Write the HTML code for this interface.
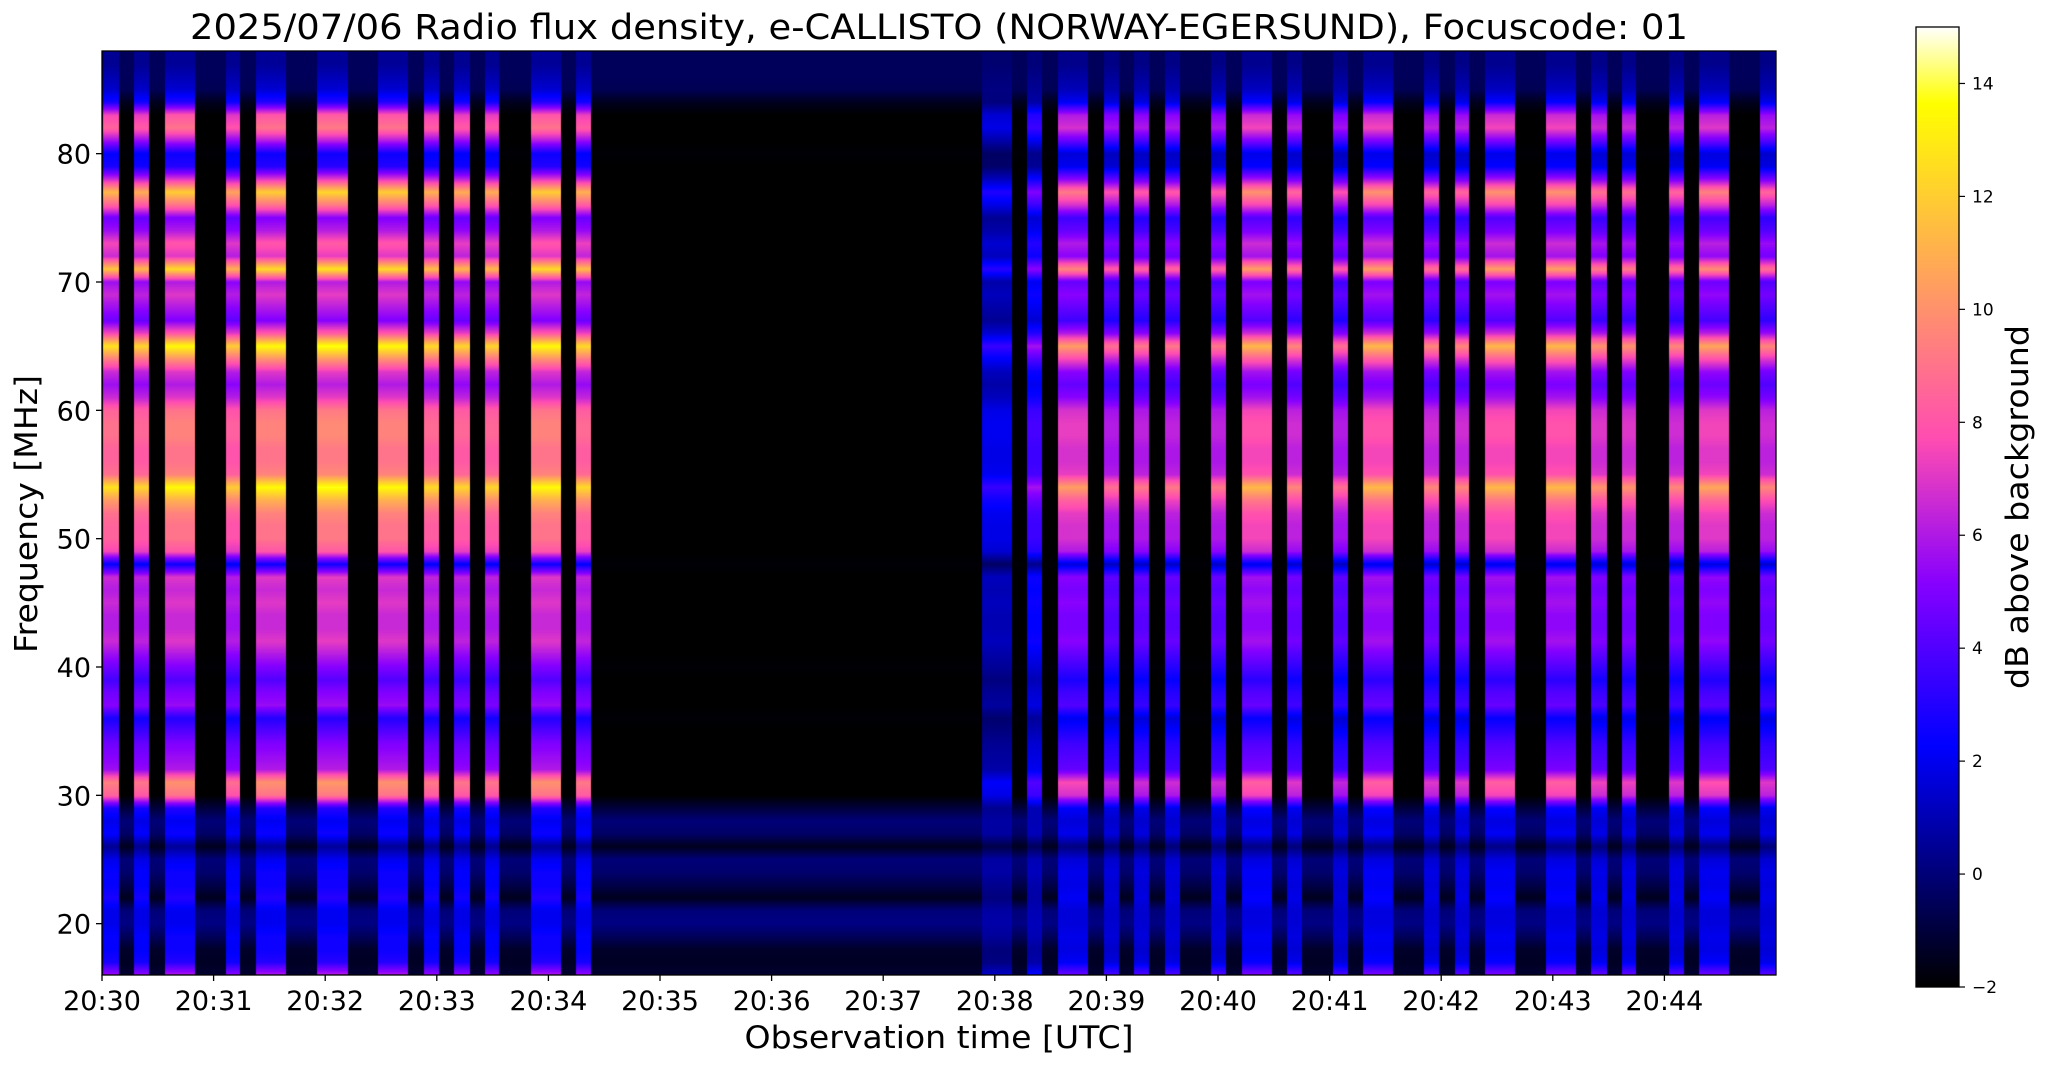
<!DOCTYPE html>
<html><head><meta charset="utf-8"><style>
html,body{margin:0;padding:0;background:#fff;}
#wrap{position:relative;width:2047px;height:1067px;overflow:hidden;font-family:"DejaVu Sans","Liberation Sans",sans-serif;}
canvas{position:absolute;}
svg{position:absolute;left:0;top:0;}
</style></head><body>
<div id="wrap">
<canvas id="spec" width="1674" height="924" style="left:102px;top:51px"></canvas>
<canvas id="cbar" width="43" height="960" style="left:1916px;top:27px"></canvas>
<svg id="ax" width="2047" height="1067"></svg>
</div>
<script>
// ---- data ----
const freqs = [88,87,86,85,84,83,82,81,80,79,78,77,76,75,74,73,72,71,70,69,68,67,66,65,64,63,62,61,60,59,58,57,56,55,54,53,52,51,50,49,48,47,46,45,44,43,42,41,40,39,38,37,36,35,34,33,32,31,30,29,28,27,26,25,24,23,22,21,20,19,18,17,16];
const burstProfile = [0.5,0.5,1,1.5,3,8,9,6,2.5,3,7,12,9,5,6,8,7,12.5,6,7,6,5,8,13.5,10,7,6,7,9,9.5,9.5,9,9,9.5,13.5,11,9.5,9,9,8,2.5,7,6.5,7,6.5,6.5,7,6,5,4,5,5.5,3,4,5,5.5,6,10,9,3,2,2.5,0.5,2,2.5,2.5,3,2,2,2.5,2.5,3,6];
const backgroundProfile = [-0.5,-0.5,-0.5,-0.6,-1.5,-2,-2,-2,-1.9,-2,-2,-2,-2,-2,-2,-2,-2,-2,-2,-2,-2,-2,-2,-2,-2,-2,-2,-2,-2,-2,-2,-2,-2,-2,-2,-2,-2,-2,-2,-2,-1.9,-2,-2,-2,-2,-2,-2,-2,-1.9,-2,-2,-2,-1.9,-2,-2,-2,-2,-2,-2,-1.0,0,-0.3,-1.5,0,-0.2,-0.8,-1.5,0,0.2,-0.5,-1.3,-1.4,-1.2];
const burstStart = [0.5,17.2,33.8,66.6,82.7,115.5,148.3,173,189,205.7,230.4,254.6,473.2,497.4,514,538.8,554.9,571.5,596.2,613,637,661.8,677.9,710.7,727.3,743.4,776.2,800.4,817,842.3,858.4,891.2];
const burstEnd   = [9.1,25.2,50,74.1,98.8,132.1,164.4,181,197.7,213.3,246.6,262.7,489.4,505.5,530.2,546.8,563,579.6,604.3,629,645.1,669.8,694,718.7,734.8,759.6,792.3,809,825,850.4,874.5,900];
const burstGain  = [0.95,0.92,1.0,0.9,1.0,1.02,1.0,0.93,0.92,0.92,1.0,0.93,0.35,0.5,0.8,0.7,0.72,0.72,0.72,0.86,0.75,0.7,0.86,0.75,0.75,0.86,0.86,0.78,0.78,0.75,0.82,0.75];
const xTicks = [0,60,120,180,240,300,360,420,480,540,600,660,720,780,840];
const xTickLabels = ["20:30","20:31","20:32","20:33","20:34","20:35","20:36","20:37","20:38","20:39","20:40","20:41","20:42","20:43","20:44"];
const yTicks = [20,30,40,50,60,70,80];
const cTicks = [-2,0,2,4,6,8,10,12,14];

// ---- scales ----
const PL=102,PT=51,PW=1674,PH=924,TMAX=900,FMIN=16,FMAX=88,VMIN=-2,VMAX=15;
const CX=1916,CT=27,CW=43,CH=960;
const xs=t=>PL+t/TMAX*PW;
const ys=f=>PT+(FMAX-f)/(FMAX-FMIN)*PH;
const cs=v=>CT+CH-(v-VMIN)/(VMAX-VMIN)*CH;
const clamp=v=>v<0?0:v>1?1:v;
function gnuplot2(x){
  x=clamp(x);
  const r=clamp(x/0.32-0.78125), g=clamp(2*x-0.84);
  let b; if(x<0.25)b=4*x; else if(x<0.42)b=1; else if(x<0.92)b=-2*x+1.84; else b=x/0.08-11.5;
  return [r*255,g*255,clamp(b)*255];
}
function interp(arr,f){
  const i=(FMAX-f); const i0=Math.max(0,Math.min(arr.length-1,Math.floor(i))); const i1=Math.min(arr.length-1,i0+1);
  const w=i-i0; return arr[i0]*(1-w)+arr[i1]*w;
}

// ---- heatmap ----
const ctx=document.getElementById('spec').getContext('2d');
const img=ctx.createImageData(PW,PH);
const rowBg=[],rowBurst=[];
for(let y=0;y<PH;y++){const f=FMAX-(y+0.5)/PH*(FMAX-FMIN);rowBg.push(interp(backgroundProfile,f));rowBurst.push(interp(burstProfile,f));}
for(let x=0;x<PW;x++){
  const t=(x+0.5)/PW*TMAX;
  let g=0;
  for(let k=0;k<burstStart.length;k++){if(t>=burstStart[k]&&t<burstEnd[k]){g=burstGain[k];break;}}
  for(let y=0;y<PH;y++){
    const bg=rowBg[y];
    const v=g>0?bg+g*(rowBurst[y]-bg):bg;
    const c=gnuplot2((v-VMIN)/(VMAX-VMIN));
    const o=(y*PW+x)*4;img.data[o]=c[0];img.data[o+1]=c[1];img.data[o+2]=c[2];img.data[o+3]=255;
  }
}
ctx.putImageData(img,0,0);

// ---- colorbar ----
const cc=document.getElementById('cbar').getContext('2d');
for(let y=0;y<CH;y++){const v=VMAX-(y+0.5)/CH*(VMAX-VMIN);const c=gnuplot2((v-VMIN)/(VMAX-VMIN));cc.fillStyle=`rgb(${c[0]|0},${c[1]|0},${c[2]|0})`;cc.fillRect(0,y,CW,1);}

// ---- axes ----
const svg=document.getElementById('ax');const NS='http://www.w3.org/2000/svg';
function el(tag,attrs,txt){const e=document.createElementNS(NS,tag);for(const k in attrs)e.setAttribute(k,attrs[k]);if(txt!==undefined)e.textContent=txt;svg.appendChild(e);return e;}
let e;
e=el('rect',{x:PL,y:PT,width:PW,height:PH,fill:'none',stroke:'#000','stroke-width':1.3});


e=el('rect',{x:CX,y:CT,width:CW,height:CH,fill:'none',stroke:'#000','stroke-width':1.3});


xTicks.forEach((t,i)=>{
  const X=xs(t);
  e=el('line',{x1:X,x2:X,y1:PT+PH,y2:PT+PH+6,stroke:'#000','stroke-width':1.3});
  
  
  e=el('text',{x:X,y:PT+PH+35,'font-size':27,'text-anchor':'middle',fill:'#000'},xTickLabels[i]);
  
  
});
yTicks.forEach(f=>{
  const Y=ys(f);
  e=el('line',{x1:PL-6,x2:PL,y1:Y,y2:Y,stroke:'#000','stroke-width':1.3});
  
  
  e=el('text',{x:PL-11,y:Y+10,'font-size':27,'text-anchor':'end',fill:'#000'},String(f));
  
  
});
cTicks.forEach(v=>{
  const Y=cs(v);
  e=el('line',{x1:CX+CW,x2:CX+CW+6,y1:Y,y2:Y,stroke:'#000','stroke-width':1.2});
  
  
  e=el('text',{x:CX+CW+13,y:Y+6,'font-size':17,fill:'#000'},v<0?'\u2212'+Math.abs(v):String(v));
  
  
});
e=el('text',{x:939,y:39,'font-size':35,'text-anchor':'middle',textLength:1498,lengthAdjust:'spacingAndGlyphs',fill:'#000'},'2025/07/06  Radio flux density, e-CALLISTO (NORWAY-EGERSUND), Focuscode: 01');


e=el('text',{x:939,y:1048,'font-size':31,'text-anchor':'middle',textLength:389,lengthAdjust:'spacingAndGlyphs',fill:'#000'},'Observation time [UTC]');


e=el('text',{x:0,y:0,'font-size':31,'text-anchor':'middle',textLength:278,lengthAdjust:'spacingAndGlyphs',fill:'#000',transform:'translate(37,514) rotate(-90)'},'Frequency [MHz]');


e=el('text',{x:0,y:0,'font-size':31,'text-anchor':'middle',textLength:364,lengthAdjust:'spacingAndGlyphs',fill:'#000',transform:'translate(2028,507) rotate(-90)'},'dB above background');


</script>
</body></html>
